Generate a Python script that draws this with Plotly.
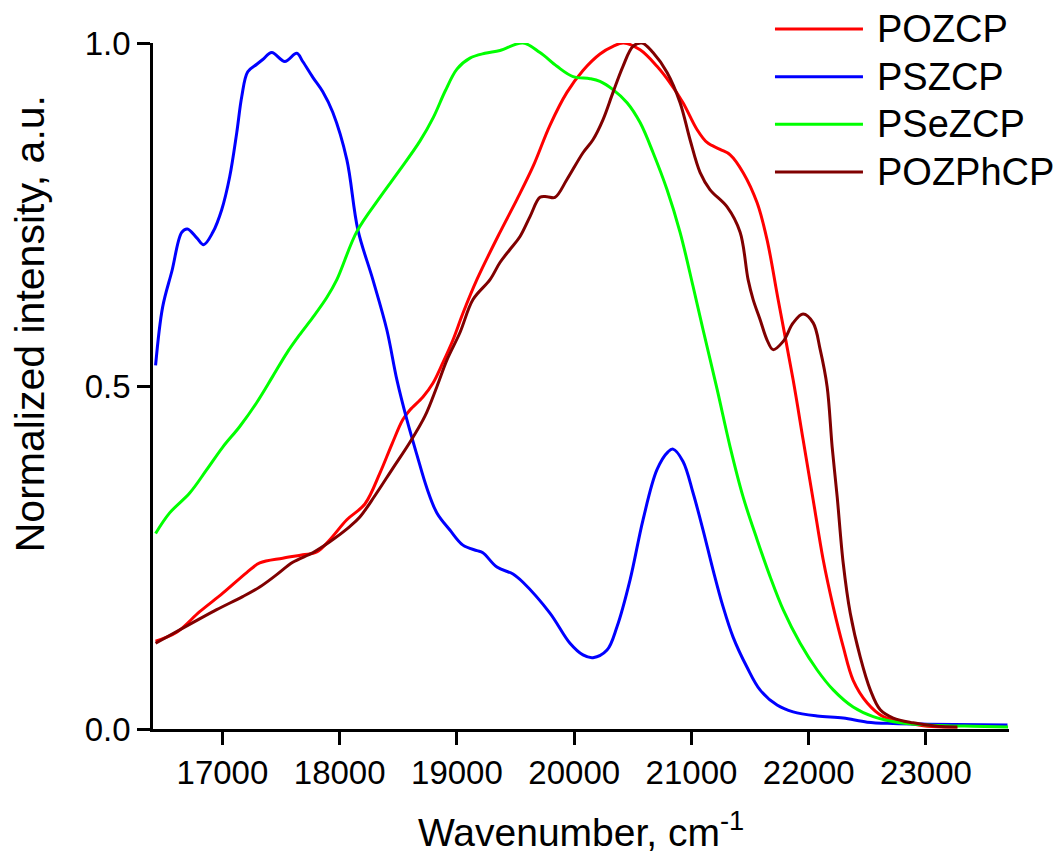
import plotly.graph_objects as go

# ---------------- data ----------------
series_names = ["POZCP", "PSZCP", "PSeZCP", "POZPhCP"]
series_colors = ["#FF0000", "#0000FF", "#00FF00", "#800000"]

pozcp_x = [16430, 16610, 16806, 17003, 17207, 17318, 17514, 17685, 17805, 17916,
           18061, 18215, 18343, 18445, 18539, 18599, 18710, 18795, 18880, 18966,
           19051, 19170, 19367, 19512, 19649, 19793, 19938, 20075, 20220, 20331,
           20420, 20562, 20706, 20817, 20928, 21047, 21133, 21244, 21330, 21441,
           21560, 21645, 21739, 21867, 21952, 22038, 22123, 22209, 22294, 22379,
           22499, 22636, 22840, 23012, 23268]
pozcp_y = [0.128, 0.141, 0.171, 0.198, 0.228, 0.242, 0.249, 0.254, 0.258, 0.276,
           0.305, 0.328, 0.373, 0.415, 0.451, 0.465, 0.484, 0.504, 0.534, 0.567,
           0.606, 0.655, 0.724, 0.772, 0.820, 0.880, 0.928, 0.960, 0.984, 0.995,
           1.000, 0.990, 0.966, 0.942, 0.913, 0.874, 0.855, 0.845, 0.837, 0.811,
           0.767, 0.713, 0.626, 0.509, 0.422, 0.334, 0.247, 0.178, 0.120, 0.071,
           0.038, 0.018, 0.009, 0.004, 0.003]

pszcp_x = [16430, 16490, 16570, 16653, 16701, 16781, 16840, 16918, 16994, 17062,
           17122, 17165, 17216, 17293, 17344, 17421, 17532, 17634, 17685, 17771,
           17856, 17941, 18061, 18155, 18283, 18402, 18488, 18573, 18658, 18744,
           18829, 18940, 19051, 19170, 19221, 19341, 19478, 19563, 19793, 19964,
           20075, 20160, 20280, 20365, 20476, 20587, 20706, 20800, 20843, 20928,
           21014, 21099, 21184, 21270, 21355, 21474, 21585, 21730, 21867, 22072,
           22294, 22499, 22721, 23012, 23695]
pszcp_y = [0.530, 0.615, 0.668, 0.724, 0.729, 0.716, 0.706, 0.724, 0.757, 0.805,
           0.869, 0.922, 0.958, 0.969, 0.976, 0.986, 0.973, 0.985, 0.973, 0.950,
           0.929, 0.899, 0.830, 0.728, 0.655, 0.582, 0.509, 0.451, 0.400, 0.351,
           0.315, 0.290, 0.268, 0.260, 0.257, 0.236, 0.226, 0.214, 0.169, 0.125,
           0.108, 0.104, 0.115, 0.149, 0.217, 0.305, 0.378, 0.404, 0.408, 0.390,
           0.344, 0.290, 0.232, 0.178, 0.134, 0.090, 0.057, 0.035, 0.025, 0.019,
           0.016, 0.010, 0.008, 0.007, 0.006]

psezcp_x = [16430, 16550, 16721, 16866, 17003, 17148, 17293, 17429, 17549, 17660,
            17771, 17890, 17976, 18146, 18343, 18513, 18684, 18800, 18900, 19000,
            19111, 19239, 19367, 19563, 19708, 19853, 19990, 20135, 20220, 20331,
            20451, 20562, 20673, 20792, 20903, 21014, 21099, 21219, 21330, 21441,
            21560, 21671, 21782, 21927, 22072, 22209, 22379, 22550, 22781, 23012,
            23400, 23700]
psezcp_y = [0.285, 0.315, 0.344, 0.378, 0.411, 0.441, 0.476, 0.514, 0.548, 0.575,
            0.600, 0.629, 0.655, 0.725, 0.775, 0.815, 0.857, 0.892, 0.930, 0.962,
            0.978, 0.985, 0.989, 1.000, 0.986, 0.966, 0.951, 0.948, 0.944, 0.932,
            0.913, 0.884, 0.840, 0.786, 0.724, 0.645, 0.582, 0.495, 0.411, 0.338,
            0.276, 0.222, 0.174, 0.125, 0.086, 0.057, 0.032, 0.018, 0.009, 0.006,
            0.004, 0.003]

pozphcp_x = [16430, 16747, 16951, 17173, 17318, 17463, 17600, 17770, 17916, 18086,
             18172, 18300, 18453, 18599, 18727, 18829, 18915, 19026, 19137, 19282,
             19367, 19452, 19538, 19623, 19708, 19768, 19836, 19938, 20075, 20160,
             20245, 20331, 20416, 20501, 20578, 20672, 20792, 20903, 20988, 21074,
             21159, 21304, 21415, 21483, 21526, 21585, 21645, 21696, 21782, 21867,
             21952, 22038, 22098, 22157, 22200, 22243, 22294, 22354, 22439, 22525,
             22610, 22721, 22891, 23097, 23268]
pozphcp_y = [0.125, 0.155, 0.174, 0.193, 0.207, 0.225, 0.243, 0.257, 0.273, 0.295,
             0.309, 0.340, 0.380, 0.418, 0.456, 0.499, 0.538, 0.578, 0.626, 0.655,
             0.680, 0.699, 0.718, 0.747, 0.775, 0.776, 0.775, 0.801, 0.840, 0.859,
             0.888, 0.928, 0.966, 0.995, 1.000, 0.986, 0.957, 0.913, 0.859, 0.811,
             0.786, 0.761, 0.724, 0.655, 0.626, 0.597, 0.567, 0.553, 0.565, 0.592,
             0.605, 0.592, 0.553, 0.499, 0.411, 0.338, 0.242, 0.169, 0.105, 0.057,
             0.028, 0.016, 0.009, 0.004, 0.003]

x_tick_values = [17000, 18000, 19000, 20000, 21000, 22000, 23000]
y_tick_values = [0.0, 0.5, 1.0]
x_title = "Wavenumber, cm<sup>-1</sup>"
y_title = "Normalized intensity, a.u."

# ---------------- figure ----------------
FONT = "Liberation Sans, Arial, sans-serif"
xs = [pozcp_x, pszcp_x, psezcp_x, pozphcp_x]
ys = [pozcp_y, pszcp_y, psezcp_y, pozphcp_y]

fig = go.Figure()
for name, color, x, y in zip(series_names, series_colors, xs, ys):
    fig.add_trace(go.Scatter(x=x, y=y, name=name, mode="lines",
                             line=dict(color=color, width=3, shape="spline", smoothing=1.0),
                             showlegend=False))

# legend drawn as line samples + text (paper coordinates)
legend_top = 1.0204
legend_step = 0.0695
for i, (name, color) in enumerate(zip(series_names, series_colors)):
    yy = legend_top - i * legend_step
    fig.add_shape(type="line", xref="paper", yref="paper",
                  x0=0.7266, x1=0.8294, y0=yy, y1=yy,
                  line=dict(color=color, width=3))
    fig.add_annotation(xref="paper", yref="paper", x=0.8435, y=yy,
                       xanchor="left", yanchor="middle", text=name, showarrow=False,
                       font=dict(family=FONT, size=38, color="black"))

fig.add_annotation(xref="paper", yref="paper", x=0, y=0.59, xshift=-123,
                   xanchor="center", yanchor="middle", textangle=-90,
                   text=y_title, showarrow=False,
                   font=dict(family=FONT, size=41, color="black"))
fig.add_annotation(xref="paper", yref="paper", x=0.5, y=0, yshift=-100,
                   xanchor="center", yanchor="middle",
                   text=x_title, showarrow=False,
                   font=dict(family=FONT, size=39, color="black"))

axis_common = dict(showline=True, linecolor="black", linewidth=2.5,
                   ticks="outside", ticklen=13, tickwidth=2.5, tickcolor="black",
                   showgrid=False, zeroline=False, mirror=False,
                   tickfont=dict(family=FONT, size=33, color="black"))

fig.update_layout(
    width=1057, height=854,
    margin=dict(l=153, r=48, t=43, b=125, autoexpand=False),
    paper_bgcolor="white", plot_bgcolor="white",
    xaxis=dict(range=[16408, 23708], tickvals=x_tick_values, tickformat="d", **axis_common),
    yaxis=dict(range=[0, 1.0], tickvals=y_tick_values, tickformat=".1f", **axis_common),
)

fig.write_html("out.html")
